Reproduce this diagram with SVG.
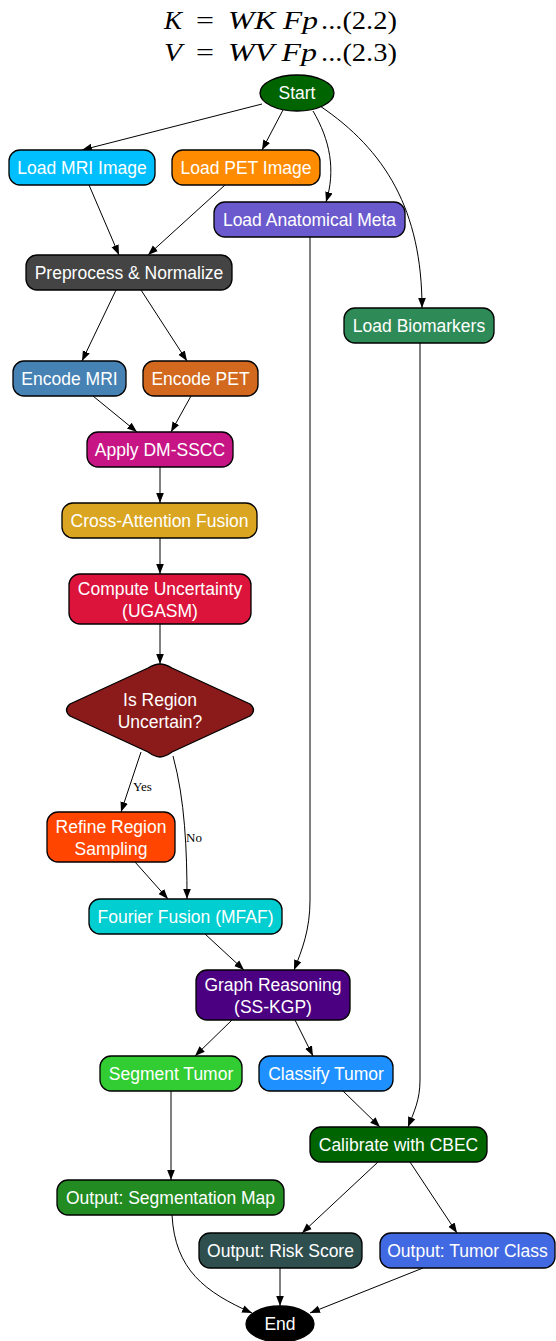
<svg xmlns="http://www.w3.org/2000/svg" width="556" height="1341" viewBox="0 0 556 1341">
<style>
.n{stroke:#000;stroke-width:1.3}
.t{font-family:"Liberation Sans",Arial,sans-serif;font-size:17.5px;fill:#fff;text-anchor:middle}
.e{fill:none;stroke:#000;stroke-width:1}
.l{font-family:"Liberation Serif","Times New Roman",serif;font-size:13px;fill:#000}
.eq{font-family:"Liberation Serif","Times New Roman",serif;font-size:26px;fill:#000}
.i{font-style:italic}
</style>
<defs>
<marker id="a" viewBox="0 0 10 10" refX="10" refY="5" markerWidth="10" markerHeight="10" markerUnits="userSpaceOnUse" orient="auto">
<path d="M0,1.2 L10,5 L0,8.8 z" fill="#000"/>
</marker>
</defs>
<rect width="556" height="1341" fill="#fff"/>
<g id="equations">
<text class="eq i" x="164" y="29" textLength="18" lengthAdjust="spacingAndGlyphs">K</text>
<text class="eq" x="196" y="29" textLength="18" lengthAdjust="spacingAndGlyphs">=</text>
<text class="eq i" x="228" y="29" textLength="90" lengthAdjust="spacingAndGlyphs">WK Fp</text>
<text class="eq" x="321" y="29" textLength="76" lengthAdjust="spacingAndGlyphs">...(2.2)</text>
<text class="eq i" x="164" y="61" textLength="18" lengthAdjust="spacingAndGlyphs">V</text>
<text class="eq" x="196" y="61" textLength="18" lengthAdjust="spacingAndGlyphs">=</text>
<text class="eq i" x="228" y="61" textLength="89" lengthAdjust="spacingAndGlyphs">WV Fp</text>
<text class="eq" x="321" y="61" textLength="76" lengthAdjust="spacingAndGlyphs">...(2.3)</text>
</g>
<g id="edges">
<path class="e" marker-end="url(#a)" d="M262,104 L82,150"/>
<path class="e" marker-end="url(#a)" d="M283,110 L262,150"/>
<path class="e" marker-end="url(#a)" d="M313,111 C330,140 336,170 326,202"/>
<path class="e" marker-end="url(#a)" d="M320,106 C385,150 422,210 422,308"/>
<path class="e" marker-end="url(#a)" d="M89,185 L119,255"/>
<path class="e" marker-end="url(#a)" d="M225,185 L148,255"/>
<path class="e" marker-end="url(#a)" d="M310,237 L310,900 C310,930 302,950 294,970"/>
<path class="e" marker-end="url(#a)" d="M420,343 L420,1080 C420,1100 414,1112 408,1127"/>
<path class="e" marker-end="url(#a)" d="M116,290 L82,361"/>
<path class="e" marker-end="url(#a)" d="M141,290 L187,361"/>
<path class="e" marker-end="url(#a)" d="M93,396 L137,432"/>
<path class="e" marker-end="url(#a)" d="M191,396 L171,432"/>
<path class="e" marker-end="url(#a)" d="M160,467 L160,503"/>
<path class="e" marker-end="url(#a)" d="M160,538 L160,574"/>
<path class="e" marker-end="url(#a)" d="M160,624 L160,664"/>
<path class="e" marker-end="url(#a)" d="M141,752 L121,812"/>
<path class="e" marker-end="url(#a)" d="M173,756 C185,800 187,850 187,899"/>
<path class="e" marker-end="url(#a)" d="M135,862 L168,899"/>
<path class="e" marker-end="url(#a)" d="M205,934 L244,970"/>
<path class="e" marker-end="url(#a)" d="M232,1020 L195,1056"/>
<path class="e" marker-end="url(#a)" d="M295,1020 L313,1056"/>
<path class="e" marker-end="url(#a)" d="M343,1091 L380,1127"/>
<path class="e" marker-end="url(#a)" d="M171,1091 L171,1180"/>
<path class="e" marker-end="url(#a)" d="M378,1162 L302,1233"/>
<path class="e" marker-end="url(#a)" d="M410,1162 L457,1233"/>
<path class="e" marker-end="url(#a)" d="M172,1215 C175,1270 205,1292 252,1313"/>
<path class="e" marker-end="url(#a)" d="M280,1268 L280,1306"/>
<path class="e" marker-end="url(#a)" d="M423,1268 L310,1313"/>
<text class="l" x="133" y="791">Yes</text>
<text class="l" x="186" y="842">No</text>
</g>
<g id="start"><ellipse class="n" cx="297" cy="93" rx="37" ry="18" fill="#006400"/><text class="t" x="297" y="99">Start</text></g>
<g id="loadMRI"><rect class="n" x="9" y="150" width="146" height="35" rx="11" fill="#00BFFF"/><text class="t" x="82" y="173.5">Load MRI Image</text></g>
<g id="loadPET"><rect class="n" x="172" y="150" width="148" height="35" rx="11" fill="#FF8C00"/><text class="t" x="246" y="173.5">Load PET Image</text></g>
<g id="loadMeta"><rect class="n" x="214" y="202" width="191" height="35" rx="11" fill="#6A5ACD"/><text class="t" x="309.5" y="225.5">Load Anatomical Meta</text></g>
<g id="loadBio"><rect class="n" x="344" y="308" width="150" height="35" rx="11" fill="#2E8B57"/><text class="t" x="419" y="331.5">Load Biomarkers</text></g>
<g id="preprocess"><rect class="n" x="26" y="255" width="206" height="35" rx="11" fill="#444444"/><text class="t" x="129" y="278.5">Preprocess &amp; Normalize</text></g>
<g id="encMRI"><rect class="n" x="13" y="361" width="113" height="35" rx="11" fill="#4682B4"/><text class="t" x="69.5" y="384.5">Encode MRI</text></g>
<g id="encPET"><rect class="n" x="143" y="361" width="115" height="35" rx="11" fill="#D2691E"/><text class="t" x="200.5" y="384.5">Encode PET</text></g>
<g id="dmsscc"><rect class="n" x="87" y="432" width="146" height="35" rx="11" fill="#C71585"/><text class="t" x="160" y="455.5">Apply DM-SSCC</text></g>
<g id="cross"><rect class="n" x="62" y="503" width="195" height="35" rx="11" fill="#DAA520"/><text class="t" x="159.5" y="526.5">Cross-Attention Fusion</text></g>
<g id="uncert"><rect class="n" x="69" y="574" width="182" height="50" rx="11" fill="#DC143C"/><text class="t" x="160" y="595">Compute Uncertainty</text><text class="t" x="160" y="617">(UGASM)</text></g>
<g id="decision"><path class="n" d="M160,664 Q165,664 172,668 L250,704 Q257,710 250,716 L172,752 Q165,757 160,757 Q155,757 148,752 L70,716 Q63,710 70,704 L148,668 Q155,664 160,664 z" fill="#8B1A1A"/><text class="t" x="160" y="706">Is Region</text><text class="t" x="160" y="728">Uncertain?</text></g>
<g id="refine"><rect class="n" x="47" y="812" width="128" height="50" rx="11" fill="#FF4500"/><text class="t" x="111" y="833">Refine Region</text><text class="t" x="111" y="855">Sampling</text></g>
<g id="fourier"><rect class="n" x="89" y="899" width="193" height="35" rx="11" fill="#00CED1"/><text class="t" x="185.5" y="922.5">Fourier Fusion (MFAF)</text></g>
<g id="graph"><rect class="n" x="196" y="970" width="154" height="50" rx="11" fill="#4B0082"/><text class="t" x="273" y="991">Graph Reasoning</text><text class="t" x="273" y="1013">(SS-KGP)</text></g>
<g id="segment"><rect class="n" x="100" y="1056" width="142" height="35" rx="11" fill="#32CD32"/><text class="t" x="171" y="1079.5">Segment Tumor</text></g>
<g id="classify"><rect class="n" x="259" y="1056" width="134" height="35" rx="11" fill="#1E90FF"/><text class="t" x="326" y="1079.5">Classify Tumor</text></g>
<g id="calibrate"><rect class="n" x="310" y="1127" width="177" height="35" rx="11" fill="#006400"/><text class="t" x="398.5" y="1150.5">Calibrate with CBEC</text></g>
<g id="outSeg"><rect class="n" x="57" y="1180" width="227" height="35" rx="11" fill="#228B22"/><text class="t" x="170.5" y="1203.5">Output: Segmentation Map</text></g>
<g id="outRisk"><rect class="n" x="199" y="1233" width="163" height="35" rx="11" fill="#2F4F4F"/><text class="t" x="280.5" y="1256.5">Output: Risk Score</text></g>
<g id="outClass"><rect class="n" x="380" y="1233" width="175" height="35" rx="11" fill="#4169E1"/><text class="t" x="467.5" y="1256.5">Output: Tumor Class</text></g>
<g id="end"><ellipse class="n" cx="280" cy="1324" rx="34" ry="18" fill="#000"/><text class="t" x="280" y="1330">End</text></g>
</svg>
